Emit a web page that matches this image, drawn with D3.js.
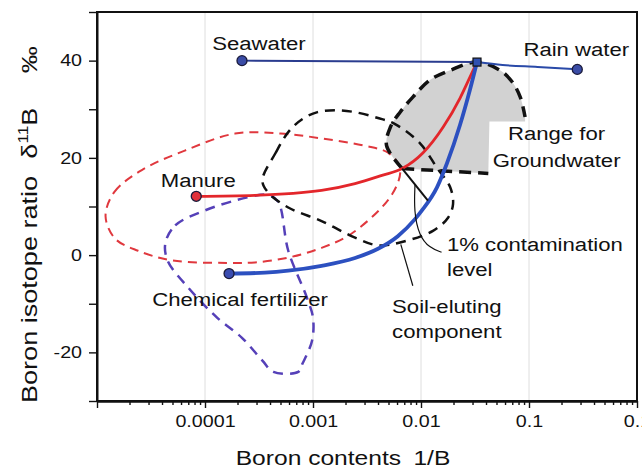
<!DOCTYPE html>
<html>
<head>
<meta charset="utf-8">
<script src="https://cdn.jsdelivr.net/npm/d3@7"></script>
<style>
  body { margin: 0; background: #fff; }
  svg text { font-family: "Liberation Sans", Arial, sans-serif; fill: #111; }
</style>
</head>
<body>
<div id="chart"></div>
<script>
// values: [1/B, delta11B]
const endMembers = [
  {name: "Seawater", b: 2.2e-4, d: 40},
  {name: "Rain water", b: 0.28, d: 38.2},
  {name: "Manure", b: 8.3e-5, d: 12.1},
  {name: "Chemical fertilizer", b: 1.67e-4, d: -3.8}
];
const groundwaterPoint = [0.033, 39.7];

const seawaterLine = [[2.2e-4, 40], [0.033, 39.7]];
const rainLine = [[0.033, 39.7], [0.057, 39.1], [0.12, 38.7], [0.28, 38.2]];
const manureCurve = [[8.3e-5, 12.1], [2.9e-4, 12.3], [1.2e-3, 13.3], [2.45e-3, 14.7], [4.35e-3, 16.4],
  [6.7e-3, 17.8], [1.04e-2, 21], [1.6e-2, 26.3], [2.3e-2, 32.3], [2.84e-2, 36.6], [3.3e-2, 39.7]];
const fertCurve = [[1.67e-4, -3.8], [3.6e-4, -3.6], [5.9e-4, -3.2], [1.2e-3, -2.2], [2.45e-3, -0.6],
  [4e-3, 1.3], [6.1e-3, 3.9], [8.8e-3, 7.4], [1.02e-2, 9.2], [1.41e-2, 14], [1.74e-2, 18.9],
  [2.3e-2, 26.8], [2.84e-2, 34], [3.3e-2, 39.7]];

const manureRange = [[1.2e-5, 8], [1.45e-5, 13], [2.6e-5, 17.5], [6.5e-5, 21.5], [1.9e-4, 25], [5e-4, 25],
  [1.2e-3, 24], [3e-3, 22.5], [5e-3, 21], [6.4e-3, 17.8], [5.4e-3, 12.5], [2.3e-3, 4.5], [1.2e-3, 1.5],
  [5.9e-4, -0.5], [2.9e-4, -1.5], [1.6e-4, -1.6], [5e-5, -1.1], [2.4e-5, 0.9], [1.47e-5, 3.4]];
const fertRange = [[4.3e-5, 2.5], [5.3e-5, 6.1], [1e-4, 9.2], [2.5e-4, 11.9], [3.8e-4, 12.4], [4.75e-4, 11],
  [5.9e-4, 0.9], [8.8e-4, -8.8], [1e-3, -12.9], [9.8e-4, -17.6], [8e-4, -22.3], [7.3e-4, -24],
  [4.3e-4, -24], [3.4e-4, -21.7], [2.2e-4, -17], [1.3e-4, -12.9], [7e-5, -6.7], [4.5e-5, -1.1]];
const soilRange = [[3.4e-4, 15.4], [4.5e-4, 21], [6e-4, 25.5], [8e-4, 28], [1.1e-3, 29.4], [1.6e-3, 29.8],
  [2.45e-3, 29.4], [4e-3, 28.2], [5.7e-3, 27], [9.8e-3, 23], [1.4e-2, 18], [1.86e-2, 14], [1.98e-2, 10.5],
  [1.78e-2, 7.7], [1.29e-2, 5], [6.4e-3, 2.6], [4e-3, 2], [2.45e-3, 3.6], [1.2e-3, 7], [5.9e-4, 9.8], [3.8e-4, 13]];

const gwArc = [[6.7e-3, 17.8], [4.8e-3, 22.5], [5.2e-3, 26.3], [6.4e-3, 29.4], [8.4e-3, 32.5], [1.21e-2, 36],
  [1.86e-2, 38], [3.3e-2, 39.7], [5.4e-2, 38], [7e-2, 35.6], [8.3e-2, 32.5], [9.2e-2, 28.4]];
const gwBase = [[6.7e-3, 17.8], [4.2e-2, 16.8]];
const gwNotch = [[9.2e-2, 27.5], [4.3e-2, 27.5], [4.2e-2, 16.8]];

const contamLine = [[6.7e-3, 17.8], [1.16e-2, 11.2]];
const contamLeader = [[8.8e-3, 14.5], [8.6e-3, 9], [9.6e-3, 4], [1.2e-2, 1.5], [1.55e-2, 0.6]];
const soilLeader = [[6.5e-3, 2.2], [8.4e-3, -6.3]];

const yTickVals = [-30, -20, -10, 0, 10, 20, 30, 40, 50];
const yTickLabels = [-20, 0, 20, 40];
const xTickVals = [1e-5, 1e-4, 1e-3, 1e-2, 1e-1, 1];
const xTickLabels = ["", "0.0001", "0.001", "0.01", "0.1", "0.1"];
const gridX = [1e-4, 1e-3, 1e-2, 1e-1];

// Sets the dimensions and margins
const W = 642, H = 471;
const margin = {top: 12, right: 5, bottom: 70, left: 97},
    width = W - margin.left - margin.right,
    height = H - margin.top - margin.bottom;
const SX = 1.23; // the original lettering is stretched sideways

const svg = d3.select("#chart").append("svg")
  .attr("width", W).attr("height", H);
const g = svg.append("g")
  .attr("transform", `translate(${margin.left},${margin.top})`);

const x = d3.scaleLog().domain([1e-5, 1]).range([0, width]);
const y = d3.scaleLinear().domain([-30, 50]).range([height, 0]);

// faint grid
g.append("g").selectAll("line").data(gridX).join("line")
  .attr("x1", d => x(d)).attr("x2", d => x(d))
  .attr("y1", 0).attr("y2", height)
  .attr("stroke", "#dedede").attr("stroke-width", 1);

const open = d3.line().x(d => x(d[0])).y(d => y(d[1])).curve(d3.curveCatmullRom.alpha(0.5));
const closed = d3.line().x(d => x(d[0])).y(d => y(d[1])).curve(d3.curveCatmullRomClosed.alpha(0.5));
const smooth = d3.line().x(d => x(d[0])).y(d => y(d[1])).curve(d3.curveMonotoneX);
const straight = d3.line().x(d => x(d[0])).y(d => y(d[1]));

// groundwater range fill
const notchPath = gwNotch.map(d => `L${x(d[0])},${y(d[1])}`).join("") + "Z";
g.append("path").attr("d", open(gwArc) + notchPath)
  .attr("fill", "#d2d2d2").attr("stroke", "none");

// dashed ranges
g.append("path").attr("d", closed(manureRange))
  .attr("fill", "none").attr("stroke", "#e0383e").attr("stroke-width", 2)
  .attr("stroke-dasharray", "9,6");
g.append("path").attr("d", closed(fertRange))
  .attr("fill", "none").attr("stroke", "#5540b8").attr("stroke-width", 2.5)
  .attr("stroke-dasharray", "10,7");
g.append("path").attr("d", closed(soilRange))
  .attr("fill", "none").attr("stroke", "#111").attr("stroke-width", 2.5)
  .attr("stroke-dasharray", "10,7");

// groundwater outline
g.append("path").attr("d", open(gwArc))
  .attr("fill", "none").attr("stroke", "#111").attr("stroke-width", 3.5)
  .attr("stroke-dasharray", "12,7");
g.append("path").attr("d", straight(gwBase))
  .attr("fill", "none").attr("stroke", "#111").attr("stroke-width", 3.5)
  .attr("stroke-dasharray", "12,7");

// mixing lines
g.append("path").attr("d", straight(seawaterLine))
  .attr("fill", "none").attr("stroke", "#2a3c8f").attr("stroke-width", 2);
g.append("path").attr("d", smooth(rainLine))
  .attr("fill", "none").attr("stroke", "#2a4aa8").attr("stroke-width", 2);
g.append("path").attr("d", smooth(manureCurve))
  .attr("fill", "none").attr("stroke", "#e3262b").attr("stroke-width", 2.8);
g.append("path").attr("d", smooth(fertCurve))
  .attr("fill", "none").attr("stroke", "#2c50c0").attr("stroke-width", 3.8);

// 1% contamination and leaders
g.append("path").attr("d", straight(contamLine))
  .attr("fill", "none").attr("stroke", "#111").attr("stroke-width", 2);
g.append("path").attr("d", d3.line().x(d => x(d[0])).y(d => y(d[1])).curve(d3.curveBasis)(contamLeader))
  .attr("fill", "none").attr("stroke", "#111").attr("stroke-width", 1.2);
g.append("path").attr("d", straight(soilLeader))
  .attr("fill", "none").attr("stroke", "#111").attr("stroke-width", 1.2);

// end members
const fills = {"Seawater": "#3a4ca6", "Rain water": "#3a4ca6", "Manure": "#e0303a", "Chemical fertilizer": "#3a4cb0"};
g.append("g").selectAll("circle").data(endMembers).join("circle")
  .attr("cx", d => x(d.b)).attr("cy", d => y(d.d)).attr("r", 5)
  .attr("fill", d => fills[d.name]).attr("stroke", "#1a1a3a").attr("stroke-width", 1.3);
g.append("rect")
  .attr("x", x(groundwaterPoint[0]) - 4).attr("y", y(groundwaterPoint[1]) - 4)
  .attr("width", 8).attr("height", 8)
  .attr("fill", "#3050b0").attr("stroke", "#111").attr("stroke-width", 1.2);

// text helper: lines of stretched text
function label(px, py, lines, anchor, size, lead) {
  const t = g.append("g").attr("transform", `translate(${px},${py})`)
    .append("text").attr("transform", `scale(${SX},1)`)
    .attr("text-anchor", anchor).style("font-size", size + "px");
  lines.forEach((s, i) => t.append("tspan").attr("x", 0).attr("y", i * lead).text(s));
}

const em = name => endMembers.find(d => d.name === name);
label(x(em("Seawater").b) + 17, y(em("Seawater").d) - 11, ["Seawater"], "middle", 18, 0);
label(x(em("Rain water").b) - 1, y(em("Rain water").d) - 13, ["Rain water"], "middle", 18, 0);
label(x(em("Manure").b) + 2, y(em("Manure").d) - 9, ["Manure"], "middle", 18, 0);
label(x(em("Chemical fertilizer").b) + 11, y(em("Chemical fertilizer").d) + 32, ["Chemical fertilizer"], "middle", 18, 0);
label(x(0.18), y(23.6), ["Range for", "Groundwater"], "middle", 18, 27);
label(x(0.0174), y(0.9), ["1% contamination", "level"], "start", 18, 25);
label(x(0.0054), y(-11.9), ["Soil-eluting", "component"], "start", 18, 25);

// frame
g.append("rect").attr("width", width).attr("height", height)
  .attr("fill", "none").attr("stroke", "#111").attr("stroke-width", 2);

// Y axis
const yAxis = g.append("g").call(d3.axisLeft(y).tickValues(yTickVals)
  .tickSize(8).tickPadding(7).tickSizeOuter(0)
  .tickFormat(d => yTickLabels.includes(d) ? d : ""));
yAxis.selectAll("text").style("font-size", "16px")
  .attr("x", -15 / SX).attr("transform", `scale(${SX},1)`);

// X axis, minor ticks then major
const minor = [];
xTickVals.slice(0, -1).forEach(v => { for (let k = 2; k < 10; k++) minor.push(v * k); });
g.append("g").attr("transform", `translate(0,${height})`)
  .call(d3.axisBottom(x).tickValues(minor).tickSize(4).tickSizeOuter(0).tickFormat(""));
const xAxis = g.append("g").attr("transform", `translate(0,${height})`)
  .call(d3.axisBottom(x).tickValues(xTickVals).tickSize(7).tickPadding(8).tickSizeOuter(0)
    .tickFormat((d, i) => xTickLabels[i]));
xAxis.selectAll("text").style("font-size", "16px").attr("transform", `scale(${SX},1)`);
g.selectAll(".domain").attr("stroke", "#111").attr("stroke-width", 2);
g.selectAll(".tick line").attr("stroke", "#111").attr("stroke-width", 1.4);

// axis titles
const xt = svg.append("g").attr("transform", `translate(${margin.left + 246},465)`)
  .append("text").attr("transform", `scale(${SX},1)`).attr("text-anchor", "middle")
  .style("font-size", "20px");
xt.append("tspan").text("Boron contents");
xt.append("tspan").attr("dx", 10).text("1/B");

const yt = svg.append("text")
  .attr("transform", `translate(37,403) rotate(-90) scale(${SX},1)`)
  .style("font-size", "22px");
yt.append("tspan").text("Boron isotope ratio");
yt.append("tspan").attr("dx", 14).text("δ");
yt.append("tspan").attr("dy", -9).style("font-size", "14px").text("11");
yt.append("tspan").attr("dy", 9).text("B");
yt.append("tspan").attr("dx", 28).text("‰");
</script>
</body>
</html>
